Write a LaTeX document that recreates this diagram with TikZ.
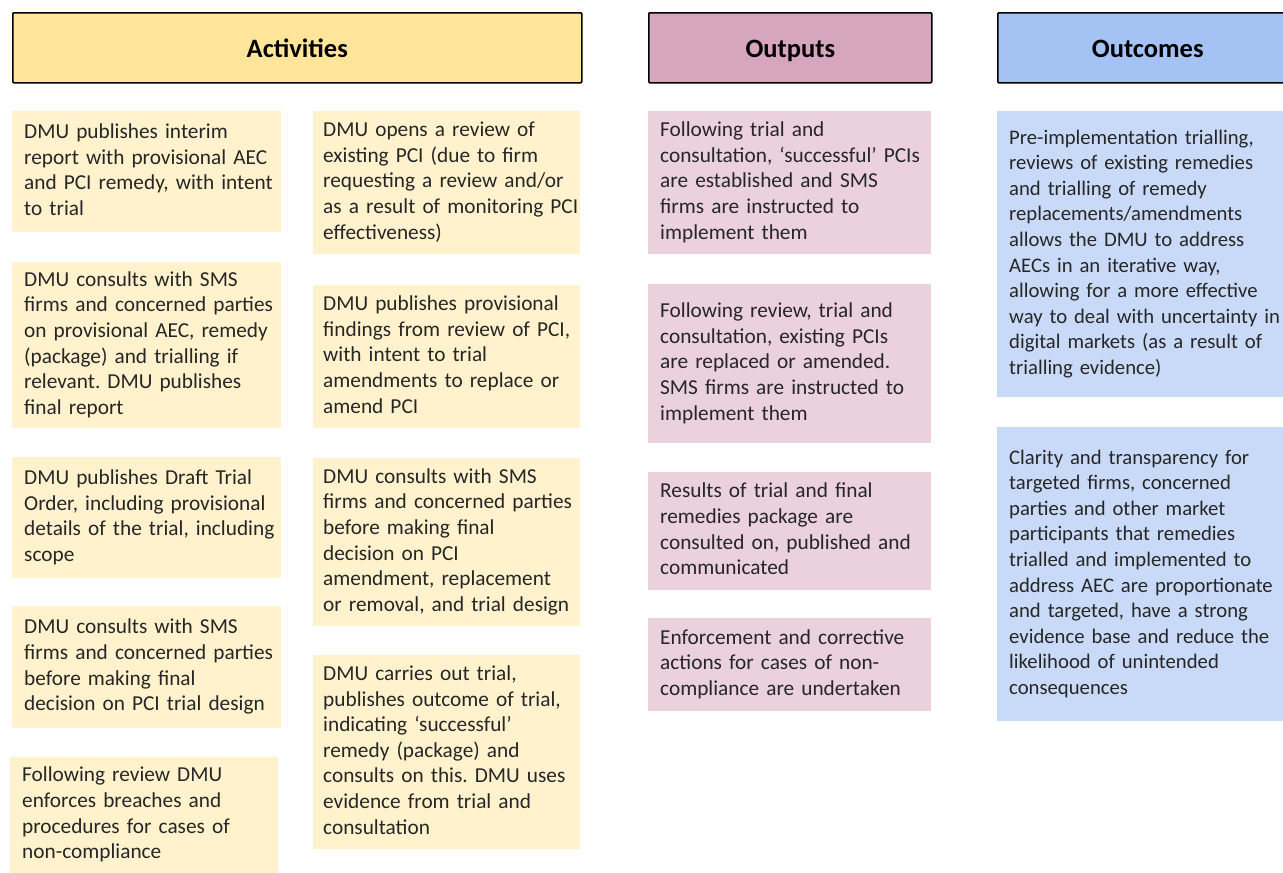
\documentclass[tikz,border=0pt]{standalone}
\usepackage{fontspec}
\setmainfont{Carlito}
\frenchspacing
\definecolor{actHead}{HTML}{FFE599}
\definecolor{actFill}{HTML}{FFF2CC}
\definecolor{outHead}{HTML}{D5A6BD}
\definecolor{outFill}{HTML}{EAD1DC}
\definecolor{ocHead}{HTML}{A4C2F4}
\definecolor{ocFill}{HTML}{C9DAF8}
% set lines exactly as given, without re-wrapping
\newcommand{\boxlines}[1]{\begin{tabular}{@{}l@{}}#1\end{tabular}}
\tikzset{
  box/.style={anchor=north west, align=left, inner ysep=0pt, inner xsep=12pt,
    font=\fontsize{21.3}{25.6}\selectfont, text=black!85},
  actbox/.style={box, fill=actFill},
  outbox/.style={box, fill=outFill},
  ocbox/.style={box, fill=ocFill, font=\fontsize{20.7}{25.6}\selectfont},
  headbox/.style={anchor=north west, draw=black, line width=1.6pt, rounded corners=1pt,
    inner sep=0pt, minimum height=70pt, text height=24pt, text depth=5pt,
    font=\fontsize{26.5}{30}\selectfont\bfseries},
}
\begin{document}
\begin{tikzpicture}[x=1pt, y=-1pt]
\useasboundingbox (0,0) rectangle (1283,873);

% column headings
\node[headbox, fill=actHead, minimum width=569pt] (hact) at (12,12) {Activities};
\node[headbox, fill=outHead, minimum width=283pt] (hout) at (648,12) {Outputs};
\node[headbox, fill=ocHead, minimum width=300pt] (hoc) at (997,12) {Outcomes};

% activities, first column
\node[actbox, text width=245pt, minimum height=121pt] (a1) at (12,111)
  {\boxlines{DMU publishes interim\\report with provisional AEC\\and PCI remedy, with intent\\to trial}};
\node[actbox, text width=245pt, minimum height=166pt] (a2) at (12,262)
  {\boxlines{DMU consults with SMS\\firms and concerned parties\\on provisional AEC, remedy\\(package) and trialling if\\relevant. DMU publishes\\final report}};
\node[actbox, text width=245pt, minimum height=121pt] (a3) at (12,457)
  {\boxlines{DMU publishes Draft Trial\\Order, including provisional\\details of the trial, including\\scope}};
\node[actbox, text width=245pt, minimum height=122pt] (a4) at (12,606)
  {\boxlines{DMU consults with SMS\\firms and concerned parties\\before making final\\decision on PCI trial design}};
\node[actbox, text width=244pt, minimum height=116pt] (a5) at (10,757)
  {\boxlines{Following review DMU\\enforces breaches and\\procedures for cases of\\non-compliance}};

% activities, second column
\node[actbox, inner xsep=10pt, text width=247pt, minimum height=143pt] (b1) at (313,111)
  {\boxlines{DMU opens a review of\\existing PCI (due to firm\\requesting a review and/or\\as a result of monitoring PCI\\effectiveness)}};
\node[actbox, inner xsep=10pt, text width=247pt, minimum height=143pt] (b2) at (313,285)
  {\boxlines{DMU publishes provisional\\findings from review of PCI,\\with intent to trial\\amendments to replace or\\amend PCI}};
\node[actbox, inner xsep=10pt, text width=247pt, minimum height=168pt] (b3) at (313,458)
  {\boxlines{DMU consults with SMS\\firms and concerned parties\\before making final\\decision on PCI\\amendment, replacement\\or removal, and trial design}};
\node[actbox, inner xsep=10pt, text width=247pt, minimum height=194pt] (b4) at (313,655)
  {\boxlines{DMU carries out trial,\\publishes outcome of trial,\\indicating ‘successful’\\remedy (package) and\\consults on this. DMU uses\\evidence from trial and\\consultation}};

% outputs
\node[outbox, text width=259pt, minimum height=143pt] (o1) at (648,111)
  {\boxlines{Following trial and\\consultation, ‘successful’ PCIs\\are established and SMS\\firms are instructed to\\implement them}};
\node[outbox, text width=259pt, minimum height=159pt] (o2) at (648,284)
  {\boxlines{Following review, trial and\\consultation, existing PCIs\\are replaced or amended.\\SMS firms are instructed to\\implement them}};
\node[outbox, text width=259pt, minimum height=118pt] (o3) at (648,472)
  {\boxlines{Results of trial and final\\remedies package are\\consulted on, published and\\communicated}};
\node[outbox, text width=259pt, minimum height=93pt] (o4) at (648,618)
  {\boxlines{Enforcement and corrective\\actions for cases of non-\\compliance are undertaken}};

% outcomes
\node[ocbox, text width=276pt, minimum height=286pt] (c1) at (997,111)
  {\boxlines{Pre-implementation trialling,\\reviews of existing remedies\\and trialling of remedy\\replacements/amendments\\allows the DMU to address\\AECs in an iterative way,\\allowing for a more effective\\way to deal with uncertainty in\\digital markets (as a result of\\trialling evidence)}};
\node[ocbox, text width=276pt, minimum height=294pt] (c2) at (997,427)
  {\boxlines{Clarity and transparency for\\targeted firms, concerned\\parties and other market\\participants that remedies\\trialled and implemented to\\address AEC are proportionate\\and targeted, have a strong\\evidence base and reduce the\\likelihood of unintended\\consequences}};
\end{tikzpicture}
\end{document}
